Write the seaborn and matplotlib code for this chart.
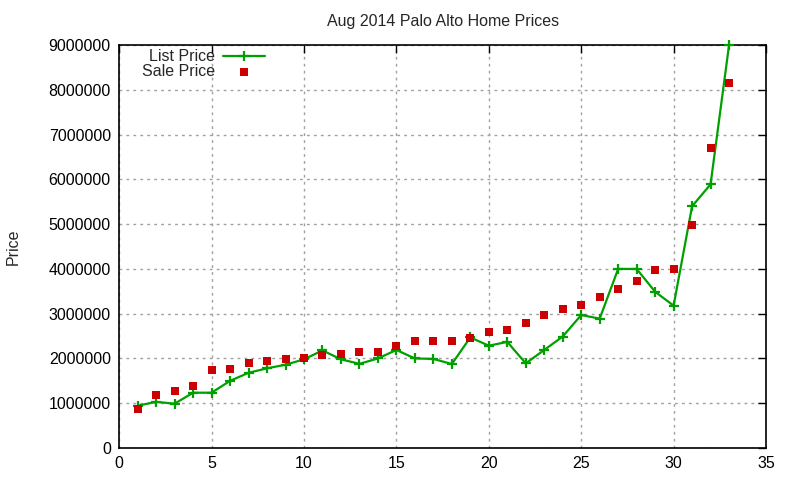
import matplotlib
matplotlib.use("Agg")
import matplotlib.pyplot as plt
import pandas as pd
import seaborn as sns

# Data
homes = list(range(1, 34))
list_price = [945000, 1030000, 990000, 1235000, 1235000, 1500000, 1680000, 1780000,
              1860000, 1980000, 2180000, 1980000, 1880000, 2000000, 2190000, 2000000,
              1990000, 1875000, 2470000, 2285000, 2370000, 1890000, 2190000, 2490000,
              2970000, 2890000, 4000000, 4000000, 3490000, 3180000, 5400000, 5890000,
              9000000]
sale_price = [878000, 1190000, 1280000, 1390000, 1750000, 1770000, 1905000, 1950000,
              1990000, 2000000, 2080000, 2100000, 2150000, 2150000, 2280000, 2390000,
              2390000, 2390000, 2460000, 2590000, 2635000, 2790000, 2980000, 3110000,
              3200000, 3380000, 3560000, 3740000, 3980000, 4000000, 4990000, 6710000,
              8160000]

df = pd.DataFrame({"n": homes, "list": list_price, "sale": sale_price})

sns.set_style("white")
plt.rcParams['font.family'] = ['Liberation Sans', 'DejaVu Sans']

fig = plt.figure(figsize=(8, 4.8), dpi=100)
ax = fig.add_axes([0.149, 0.0667, 0.8085, 0.8393])

sns.lineplot(data=df, x="n", y="list", ax=ax, color="#00a000", linewidth=1.6,
             linestyle="-", marker="+", markersize=7, markeredgewidth=1.6,
             markeredgecolor="#00a000", label="List Price", clip_on=False,
             zorder=4)
sns.scatterplot(data=df, x="n", y="sale", ax=ax, color="#cc0000", marker="s",
                s=36, linewidth=0, label="Sale Price", zorder=5)

ax.set_xlim(0, 35)
ax.set_ylim(0, 9000000)
ax.set_xticks(range(0, 36, 5))
ax.set_yticks(range(0, 9000001, 1000000))
ax.set_yticklabels([str(v) for v in range(0, 9000001, 1000000)])
ax.tick_params(direction="in", length=6, width=1, top=True, right=True,
               labelsize=11.5, colors="black", pad=6)
ax.grid(True, linestyle=(0, (2, 3)), color="#a0a0a0", linewidth=1)
for s in ax.spines.values():
    s.set_color("black")
    s.set_linewidth(1.2)

ax.set_xlabel("")
ax.set_ylabel("Price", fontsize=11.5)
ax.yaxis.set_label_coords(-0.152, 0.5)
ax.set_title("Aug 2014 Palo Alto Home Prices", fontsize=11.5, pad=14)

leg = ax.legend(loc="upper left", bbox_to_anchor=(0.021, 1.013), frameon=False,
                markerfirst=False, fontsize=11.5, handlelength=2.6,
                labelspacing=0.0, borderaxespad=0.2, handletextpad=0.5)

fig.savefig("out.png", dpi=100)
